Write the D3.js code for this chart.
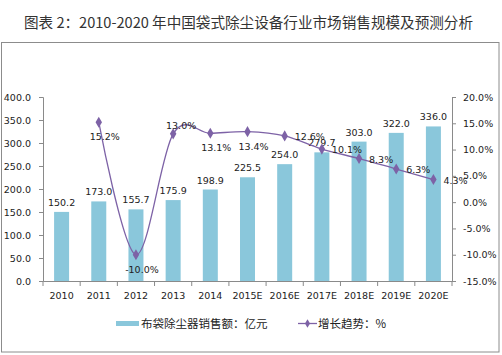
<!DOCTYPE html>
<html><head><meta charset="utf-8">
<script src="https://cdn.jsdelivr.net/npm/d3@7"></script>
<style>
body{margin:0;background:#fff;}
svg{display:block;}
</style></head>
<body><svg id="c" width="502" height="355"></svg>
<script>
// ---- data ----
const titleText = "图表 2：2010-2020 年中国袋式除尘设备行业市场销售规模及预测分析";
const years = ["2010","2011","2012","2013","2014","2015E","2016E","2017E","2018E","2019E","2020E"];
const sales = [150.2,173.0,155.7,175.9,198.9,225.5,254.0,279.7,303.0,322.0,336.0];
const growth = [null,15.2,-10.0,13.0,13.1,13.4,12.6,10.1,8.3,6.3,4.3];
const leftTicks = [0,50,100,150,200,250,300,350,400];
const rightTicks = [-15,-10,-5,0,5,10,15,20];
const legendBar = "布袋除尘器销售额：亿元";
const legendLine = "增长趋势：%";

// ---- style ----
const growthLabelPlace = ["","below","below","above","below","below","right","right","right","right","right"];
const barColor = "#8ac7db", lineColor = "#7d62a6", axisColor = "#8a8a8a";
const numFont = "'DejaVu Sans', Verdana, sans-serif";
const numSize = 9.5;
const cjkFont = "'Noto Sans CJK SC', sans-serif";

const svg = d3.select("#c");
const L = 43, R = 452, T = 97, B = 281;

svg.append("text").attr("x",24).attr("y",28)
  .attr("font-family",cjkFont).attr("font-size",14.6).attr("fill","#333")
  .attr("textLength",449).attr("lengthAdjust","spacing")
  .text(titleText);

svg.append("rect").attr("x",1.5).attr("y",42.5).attr("width",497.5).attr("height",309.5)
  .attr("fill","none").attr("stroke","#8c8c8c");

const xb = d3.scaleBand().domain(years).range([L,R]);
const yL = d3.scaleLinear().domain([0,400]).range([B,T]);
const yR = d3.scaleLinear().domain([-15,20]).range([B,T]);

// bars
svg.append("g").selectAll("rect").data(sales).join("rect")
  .attr("x",(d,i)=>xb(years[i])+xb.bandwidth()/2-7.5)
  .attr("width",15)
  .attr("y",d=>yL(d)).attr("height",d=>B-yL(d))
  .attr("fill",barColor);

// axes
const gl = svg.append("g").attr("transform",`translate(${L},0)`)
  .call(d3.axisLeft(yL).tickValues(leftTicks).tickFormat(d3.format(".1f")).tickSize(4).tickPadding(8));
const gr = svg.append("g").attr("transform",`translate(${R},0)`)
  .call(d3.axisRight(yR).tickValues(rightTicks).tickFormat(d=>d.toFixed(1)+"%").tickSize(4).tickPadding(7));
const gx = svg.append("g").attr("transform",`translate(0,${B})`)
  .call(d3.axisBottom(xb).tickSize(0).tickPadding(11));
gx.selectAll("line.bd").data(d3.range(years.length+1)).join("line").attr("class","bd")
  .attr("x1",i=>L+i*xb.step()).attr("x2",i=>L+i*xb.step()).attr("y1",0).attr("y2",5)
  .attr("stroke",axisColor);
[gl,gr,gx].forEach(g=>{
  g.selectAll("path.domain").attr("stroke",axisColor);
  g.selectAll(".tick line").attr("stroke",axisColor);
  g.selectAll("text").attr("font-family",numFont).attr("font-size",numSize).attr("fill","#222");
});

// bar labels
svg.append("g").selectAll("text").data(sales).join("text")
  .attr("x",(d,i)=>xb(years[i])+xb.bandwidth()/2)
  .attr("y",d=>yL(d)-6)
  .attr("text-anchor","middle").attr("font-family",numFont).attr("font-size",numSize).attr("fill","#222")
  .text(d=>d.toFixed(1));

// line
const pts = growth.map((g,i)=>g==null?null:[xb(years[i])+xb.bandwidth()/2, yR(g), g, i]).filter(Boolean);
svg.append("path").datum(pts)
  .attr("d",d3.line().x(d=>d[0]).y(d=>d[1]).curve(d3.curveCatmullRom.alpha(0)))
  .attr("fill","none").attr("stroke",lineColor).attr("stroke-width",1.3);
svg.append("g").selectAll("path").data(pts).join("path")
  .attr("transform",d=>`translate(${d[0]},${d[1]})`)
  .attr("d",d3.symbol(d3.symbolDiamond, 36)())
  .attr("fill",lineColor);
svg.append("g").selectAll("text").data(pts).join("text")
  .attr("x",d=>{const p=growthLabelPlace[d[3]]; return p==="right"? d[0]+10 : p==="above"? d[0]+8 : d[0]+6;})
  .attr("y",d=>{const p=growthLabelPlace[d[3]]; return p==="right"? d[1]+4 : p==="above"? d[1]-5 : d[1]+18;})
  .attr("text-anchor",d=>growthLabelPlace[d[3]]==="right"?"start":"middle")
  .attr("font-family",numFont).attr("font-size",numSize).attr("fill","#222")
  .text(d=>d[2].toFixed(1)+"%");

// legend
const lg = svg.append("g");
lg.append("rect").attr("x",116).attr("y",321).attr("width",23).attr("height",5).attr("fill",barColor);
lg.append("text").attr("x",141).attr("y",328).attr("font-family",cjkFont).attr("font-size",11.5).attr("fill","#222").text(legendBar);
lg.append("line").attr("x1",298).attr("x2",317).attr("y1",323.5).attr("y2",323.5).attr("stroke",lineColor).attr("stroke-width",1.3);
lg.append("path").attr("transform","translate(307.5,323.5)").attr("d",d3.symbol(d3.symbolDiamond,22)()).attr("fill",lineColor);
lg.append("text").attr("x",318).attr("y",328).attr("font-family",cjkFont).attr("font-size",11.5).attr("fill","#222").text(legendLine);
</script></body></html>
